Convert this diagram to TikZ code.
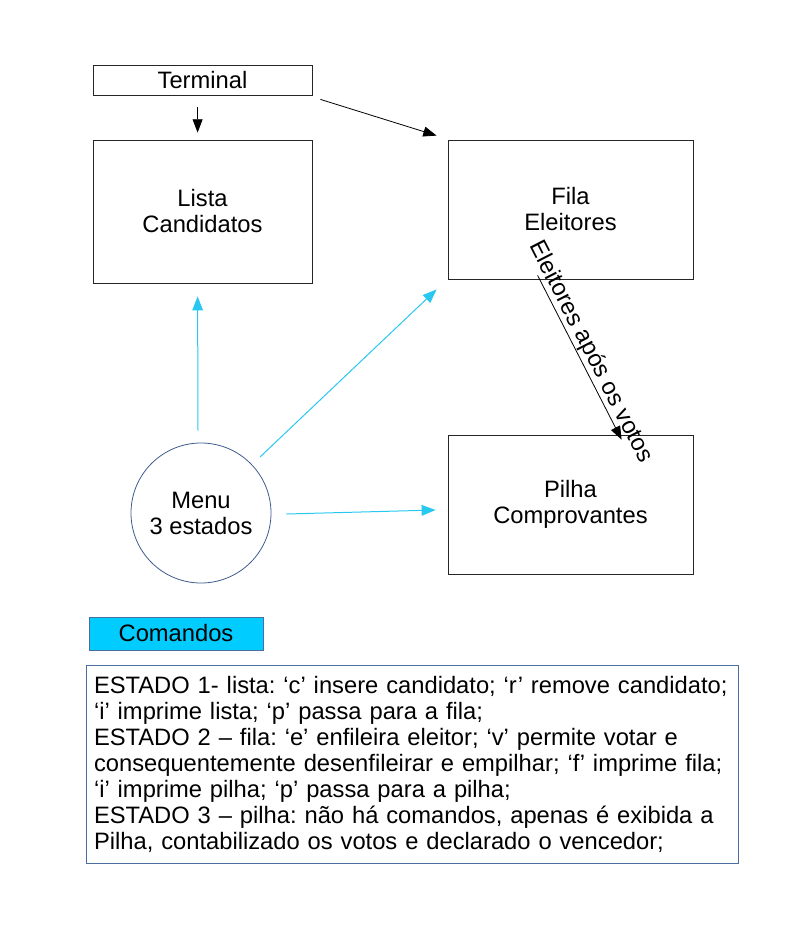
\documentclass[tikz,border=0pt]{standalone}
\usepackage{fontspec}
\setmainfont{Liberation Sans}
\usetikzlibrary{arrows.meta,calc}
\definecolor{arrcyan}{RGB}{40,200,240}
\definecolor{cmdcyan}{RGB}{0,204,255}
\definecolor{circblue}{RGB}{60,90,140}
\definecolor{boxblue}{RGB}{74,110,160}
\frenchspacing
\tikzset{
  box/.style={draw=black!85, line width=0.6pt, align=center, font=\fontsize{17.8}{19.5}\selectfont},
  blk/.style={draw=black, line width=0.6pt, -{Triangle[length=10pt,width=7.5pt]}},
  cyn/.style={draw=arrcyan, line width=0.75pt, -{Triangle[length=10.5pt,width=8pt]}}
}
\begin{document}
\begin{tikzpicture}[x=0.75pt,y=-0.75pt]
\useasboundingbox (0,0) rectangle (792,928);
\node[box, minimum width=164.25pt, minimum height=22.5pt, inner sep=0pt] (term) at (202.5,80) {Terminal};
\node[box, minimum width=164.25pt, minimum height=107.25pt] (lista) at (202.5,211.5) {Lista\\Candidatos};
\node[box, minimum width=183.75pt, minimum height=104.25pt] (fila) at (570.5,209.5) {Fila\\Eleitores};
\node[box, minimum width=183.75pt, minimum height=104.25pt] (pilha) at (570.5,504.5) {Pilha\\Comprovantes};
\node[box, circle, draw=circblue, minimum size=105pt, inner sep=0pt] (menu) at (201,513) {Menu\\3 estados};
\node[box, draw=boxblue, fill=cmdcyan, minimum width=130.5pt, minimum height=24.75pt, inner sep=0pt] (cmd) at (176,633.5) {Comandos};
\node[box, draw=boxblue, minimum width=489pt, minimum height=148.5pt, text width=477pt, align=left, inner sep=6pt] (txt) at (412,764) {ESTADO 1- lista: ‘c’ insere candidato; ‘r’ remove candidato;\\
‘i’ imprime lista; ‘p’ passa para a fila;\\
ESTADO 2 – fila: ‘e’ enfileira eleitor; ‘v’ permite votar e\\
consequentemente desenfileirar e empilhar; ‘f’ imprime fila;\\
‘i’ imprime pilha; ‘p’ passa para a pilha;\\
ESTADO 3 – pilha: não há comandos, apenas é exibida a\\
Pilha, contabilizado os votos e declarado o vencedor;};
% black arrows
\draw[blk] ($(term.south west)+(105,12)$) -- ($(lista.north west)+(105,-7)$);
\draw[blk] ($(term.south east)+(8,4)$) -- ($(fila.north west)+(-11,-4)$);
\draw[blk] ($(fila.south west)+(90,-4)$) -- node[midway, sloped, above, inner sep=0.5pt, font=\fontsize{17.8}{19.5}\selectfont]{Eleitores após os votos} ($(pilha.north west)+(174,5)$);
% cyan arrows
\draw[cyn] ($(menu.north)+(-3,-12)$) -- ($(lista.south west)+(105,13)$);
\draw[cyn] ($(menu.center)+(59,-56)$) -- ($(fila.south west)+(-11,10)$);
\draw[cyn] ($(menu.east)+(15,1)$) -- ($(pilha.west)+(-12,5.5)$);
\end{tikzpicture}
\end{document}
